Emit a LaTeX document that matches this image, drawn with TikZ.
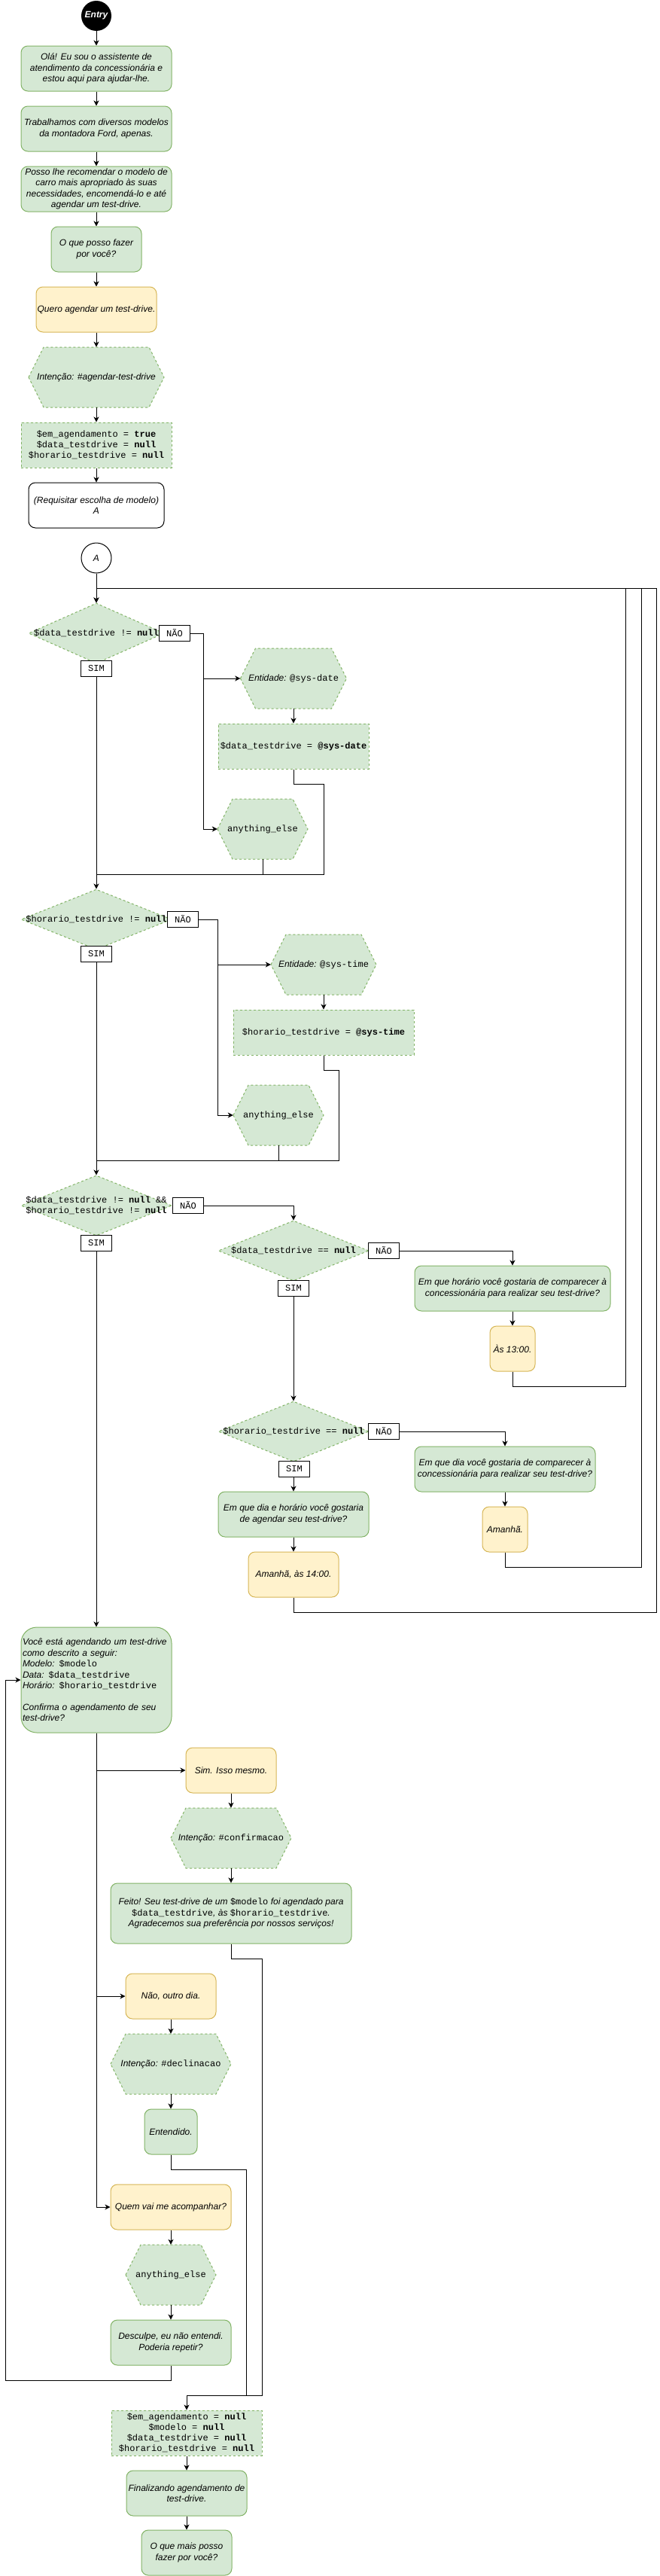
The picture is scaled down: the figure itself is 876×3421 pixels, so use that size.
\documentclass[tikz,border=0pt]{standalone}
\usepackage{fontspec}
\setmainfont{Liberation Sans}
\setmonofont{Liberation Mono}
\usetikzlibrary{shapes.geometric,arrows.meta}
\definecolor{gfill}{HTML}{D5E8D4}
\definecolor{gline}{HTML}{82B366}
\definecolor{yfill}{HTML}{FFF2CC}
\definecolor{yline}{HTML}{D6B656}
\newcommand\mc[1]{{\upshape\ttfamily #1}}
\newcommand\hexnode[6]{%
  \path[hexsty] (#2-#4/2,#3) -- (#2-#4/2+20,#3-#5/2) -- (#2+#4/2-20,#3-#5/2) -- (#2+#4/2,#3) -- (#2+#4/2-20,#3+#5/2) -- (#2-#4/2+20,#3+#5/2) -- cycle;
  \node[hexin, minimum width=#4pt, minimum height=#5pt] (#1) at (#2,#3) {#6};}
\tikzset{
 base/.style={font=\fontsize{12}{14.4}\selectfont\itshape, align=center, inner sep=0pt, text=black},
 gbox/.style={base, rectangle, rounded corners=9pt, draw=gline, fill=gfill, line width=1pt},
 ybox/.style={base, rectangle, rounded corners=9pt, draw=yline, fill=yfill, line width=1pt},
 wbox/.style={base, rectangle, rounded corners=9pt, draw=black, fill=white, line width=1pt},
 dbox/.style={base, rectangle, draw=gline, fill=gfill, dash pattern=on 3pt off 3pt, line width=1pt, font=\fontsize{12}{14}\selectfont\ttfamily\upshape},
 hexsty/.style={draw=gline, fill=gfill, dash pattern=on 3pt off 3pt, line width=1pt},
 hexin/.style={base, rectangle, draw=none},
 dia/.style={diamond, draw=gline, fill=gfill, dash pattern=on 3pt off 3pt, line width=1pt, inner sep=0pt},
 mtxt/.style={font=\fontsize{12}{14.4}\selectfont\ttfamily\upshape, align=center, inner sep=0pt},
 lab/.style={rectangle, draw=black, fill=white, line width=1pt, font=\fontsize{12}{14}\selectfont\ttfamily, minimum width=41pt, minimum height=21pt, inner sep=0pt},
 arr/.style={line width=1pt, -{Stealth[length=7pt,width=7pt,inset=2pt]}},
 ln/.style={line width=1pt},
}
\begin{document}
\begin{tikzpicture}[x=1pt,y=-1pt]
\useasboundingbox (0,0) rectangle (876,3421);
% ---- top column
\node[circle, fill=black, minimum size=40pt, inner sep=0pt, font=\fontsize{12}{14}\selectfont\bfseries\itshape, text=white] (entry) at (128,21) {Entry};
\node[gbox, minimum width=200pt, minimum height=60pt] (b1) at (128,91) {Olá! Eu sou o assistente de\\atendimento da concessionária e\\estou aqui para ajudar-lhe.};
\node[gbox, minimum width=200pt, minimum height=60pt] (b2) at (128,171) {Trabalhamos com diversos modelos\\da montadora Ford, apenas.};
\node[gbox, minimum width=200pt, minimum height=60pt] (b3) at (128,251) {Posso lhe recomendar o modelo de\\carro mais apropriado às suas\\necessidades, encomendá-lo e até\\agendar um test-drive.};
\node[gbox, minimum width=120pt, minimum height=60pt] (b4) at (128,331) {O que posso fazer\\por você?};
\node[ybox, minimum width=160pt, minimum height=60pt] (y1) at (128,411) {Quero agendar um test-drive.};
\hexnode{h1}{128}{501}{180}{80}{Intenção: \#agendar-test-drive}
\node[dbox, minimum width=200pt, minimum height=60pt] (r1) at (128,591) {\$em\_agendamento = \textbf{true}\\\$data\_testdrive = \textbf{null}\\\$horario\_testdrive = \textbf{null}};
\node[wbox, minimum width=180pt, minimum height=60pt] (w1) at (128,671) {(Requisitar escolha de modelo)\\A};
\node[base, circle, draw=black, fill=white, line width=1pt, minimum size=40pt] (ca) at (128,741) {A};
\draw[arr] (entry.south) -- (b1.north);
\draw[arr] (b1.south) -- (b2.north);
\draw[arr] (b2.south) -- (b3.north);
\draw[arr] (b3.south) -- (b4.north);
\draw[arr] (b4.south) -- (y1.north);
\draw[arr] (y1.south) -- (h1.north);
\draw[arr] (h1.south) -- (r1.north);
\draw[arr] (r1.south) -- (w1.north);
% ---- decision 1
\node[dia, minimum width=180pt, minimum height=80pt] (d1) at (128,841) {};
\node[mtxt] (d1t) at (128,841) {\$data\_testdrive != \textbf{null}};
\hexnode{e1}{390}{901}{141}{80}{Entidade: \mc{@sys-date}}
\node[dbox, minimum width=200pt, minimum height=60pt] (r2) at (390,991) {\$data\_testdrive = \textbf{@sys-date}};
\hexnode{any1}{349}{1101}{120}{80}{\mc{anything\_else}}
\coordinate (t0) at (128,781);
\coordinate (j1) at (270,841);
\coordinate (m1) at (128,1161);
\draw[arr] (ca.south) -- (d1.north);
\draw[ln] (d1.east) -- (j1);
\draw[arr] (j1) |- (e1.west);
\draw[arr] (j1) |- (any1.west);
\draw[arr] (e1.south) -- (r2.north);
\draw[ln] (r2.south) |- (430,1041) -- (430,1161) -- (m1);
\draw[ln] (any1.south) -- (any1.south |- m1);
% ---- decision 2
\node[dia, minimum width=200pt, minimum height=80pt] (d2) at (128,1221) {};
\node[mtxt] (d2t) at (128,1221) {\$horario\_testdrive != \textbf{null}};
\hexnode{e2}{430}{1281}{140}{80}{Entidade: \mc{@sys-time}}
\node[dbox, minimum width=240pt, minimum height=60pt] (r3) at (430,1371) {\$horario\_testdrive = \textbf{@sys-time}};
\hexnode{any2}{370}{1481}{120}{80}{\mc{anything\_else}}
\coordinate (j2) at (289,1221);
\coordinate (m2) at (128,1541);
\draw[arr] (d1.south) -- (d2.north);
\draw[ln] (d2.east) -- (j2);
\draw[arr] (j2) |- (e2.west);
\draw[arr] (j2) |- (any2.west);
\draw[arr] (e2.south) -- (r3.north);
\draw[ln] (r3.south) |- (450,1421) -- (450,1541) -- (m2);
\draw[ln] (any2.south) -- (any2.south |- m2);
% ---- decision 3,4,5
\node[dia, minimum width=200pt, minimum height=80pt] (d3) at (128,1601) {};
\node[mtxt] (d3t) at (128,1601) {\$data\_testdrive != \textbf{null} \&\&\\\$horario\_testdrive != \textbf{null}};
\node[dia, minimum width=200pt, minimum height=80pt] (d4) at (390,1661) {};
\node[mtxt] (d4t) at (390,1661) {\$data\_testdrive == \textbf{null}};
\node[gbox, minimum width=260pt, minimum height=60pt] (q1) at (681,1711) {Em que horário você gostaria de comparecer à\\concessionária para realizar seu test-drive?};
\node[ybox, minimum width=60pt, minimum height=60pt] (a1) at (681,1791) {Às 13:00.};
\node[dia, minimum width=200pt, minimum height=80pt] (d5) at (390,1901) {};
\node[mtxt] (d5t) at (390,1901) {\$horario\_testdrive == \textbf{null}};
\node[gbox, minimum width=240pt, minimum height=60pt] (q2) at (671,1951) {Em que dia você gostaria de comparecer à\\concessionária para realizar seu test-drive?};
\node[ybox, minimum width=60pt, minimum height=60pt] (a2) at (671,2031) {Amanhã.};
\node[gbox, minimum width=200pt, minimum height=60pt] (q3) at (390,2011) {Em que dia e horário você gostaria\\de agendar seu test-drive?};
\node[ybox, minimum width=120pt, minimum height=60pt] (a3) at (390,2091) {Amanhã, às 14:00.};
\coordinate (t1) at (831,781);
\coordinate (t2) at (852,781);
\coordinate (t3) at (872,781);
\draw[arr] (d2.south) -- (d3.north);
\draw[arr] (d3.east) -| (d4.north);
\draw[arr] (d4.east) -| (q1.north);
\draw[arr] (q1.south) -- (a1.north);
\draw[ln] (a1.south) |- (831,1841) -- (t1);
\draw[arr] (d4.south) -- (d5.north);
\draw[arr] (d5.east) -| (q2.north);
\draw[arr] (q2.south) -- (a2.north);
\draw[ln] (a2.south) |- (852,2081) -- (t2);
\draw[arr] (d5.south) -- (q3.north);
\draw[arr] (q3.south) -- (a3.north);
\draw[arr] (a3.south) |- (872,2141) -- (t3) -- (t0) -- (d1.north);
% ---- confirmation
\node[gbox, rounded corners=21pt, minimum width=200pt, minimum height=140pt, text width=196pt, align=left] (cf) at (128,2231) {Você está agendando um test-drive\\como descrito a seguir:\\Modelo: \mc{\$modelo}\\Data: \mc{\$data\_testdrive}\\Horário: \mc{\$horario\_testdrive}\\[14.4pt]Confirma o agendamento de seu\\test-drive?};
\node[ybox, minimum width=120pt, minimum height=60pt] (sim) at (307,2351) {Sim. Isso mesmo.};
\hexnode{hc}{307}{2441}{160}{80}{Intenção: \mc{\#confirmacao}}
\node[gbox, minimum width=320pt, minimum height=80pt] (feito) at (307,2541) {Feito! Seu test-drive de um \mc{\$modelo} foi agendado para\\\mc{\$data\_testdrive}, às \mc{\$horario\_testdrive}.\\Agradecemos sua preferência por nossos serviços!};
\node[ybox, minimum width=120pt, minimum height=60pt] (nao) at (227,2651) {Não, outro dia.};
\hexnode{hd}{227}{2741}{160}{80}{Intenção: \mc{\#declinacao}}
\node[gbox, minimum width=70pt, minimum height=60pt] (ent) at (227,2831) {Entendido.};
\node[ybox, minimum width=160pt, minimum height=60pt] (quem) at (227,2931) {Quem vai me acompanhar?};
\hexnode{any3}{227}{3021}{120}{80}{\mc{anything\_else}}
\node[gbox, minimum width=160pt, minimum height=60pt] (desc) at (227,3111) {Desculpe, eu não entendi.\\Poderia repetir?};
\node[dbox, minimum width=200pt, minimum height=60pt] (rf) at (248,3231) {\$em\_agendamento = \textbf{null}\\\$modelo = \textbf{null}\\\$data\_testdrive = \textbf{null}\\\$horario\_testdrive = \textbf{null}};
\node[gbox, minimum width=160pt, minimum height=60pt] (fin) at (248,3311) {Finalizando agendamento de\\test-drive.};
\node[gbox, minimum width=120pt, minimum height=60pt] (omp) at (248,3390) {O que mais posso\\fazer por você?};
\coordinate (k) at (248,3181);
\draw[arr] (d3.south) -- (cf.north);
\draw[arr] (cf.south) |- (sim.west);
\draw[arr] (cf.south) |- (nao.west);
\draw[arr] (cf.south) |- (quem.west);
\draw[arr] (sim.south) -- (hc.north);
\draw[arr] (hc.south) -- (feito.north);
\draw[arr] (feito.south) |- (348,2601) -- (348,3181) -- (k) -- (rf.north);
\draw[arr] (nao.south) -- (hd.north);
\draw[arr] (hd.south) -- (ent.north);
\draw[ln] (ent.south) |- (327,2881) -- (327,3181);
\draw[arr] (quem.south) -- (any3.north);
\draw[arr] (any3.south) -- (desc.north);
\draw[arr] (desc.south) |- (7,3161) -- (7,2231) -- (cf.west);
\draw[arr] (rf.south) -- (fin.north);
\draw[arr] (fin.south) -- (omp.north);
% ---- edge labels
\node[lab] (n1) at (232,841) {NÃO};
\node[lab] (s1) at (128,888) {SIM};
\node[lab] (n2) at (243,1221) {NÃO};
\node[lab] (s2) at (128,1267) {SIM};
\node[lab] (n3) at (250,1601) {NÃO};
\node[lab] (s3) at (128,1651) {SIM};
\node[lab] (n4) at (510,1661) {NÃO};
\node[lab] (s4) at (390,1711) {SIM};
\node[lab] (n5) at (510,1901) {NÃO};
\node[lab] (s5) at (391,1951) {SIM};
\end{tikzpicture}
\end{document}
